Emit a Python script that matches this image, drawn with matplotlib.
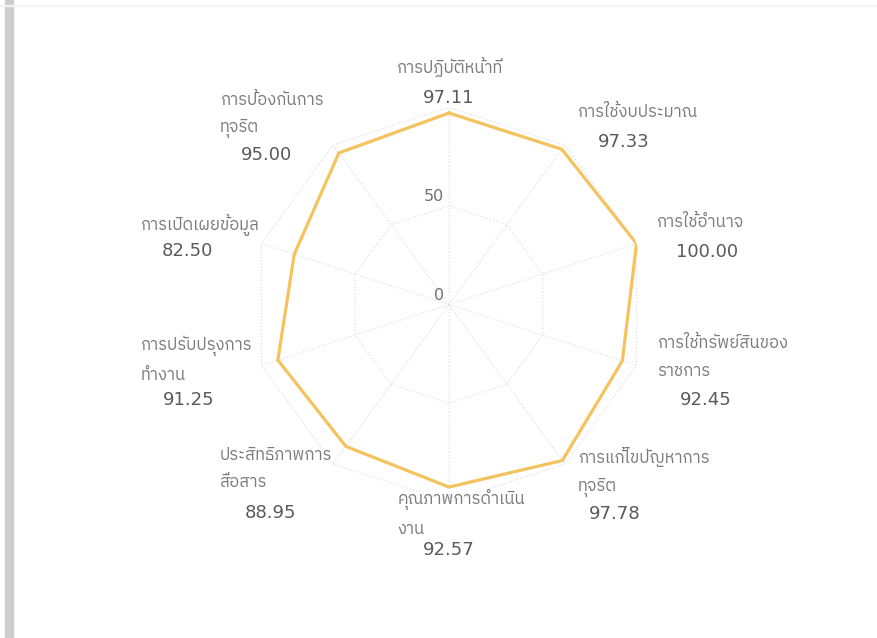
import numpy as np
import matplotlib
matplotlib.use('Agg')
from matplotlib import pyplot as plt
from matplotlib import font_manager
from matplotlib.ft2font import FT2Font
from matplotlib.patches import Rectangle

labels = [
    'การปฏิบัติหน้าที่',
    'การใช้งบประมาณ',
    'การใช้อำนาจ',
    'การใช้ทรัพย์สินของ\nราชการ',
    'การแก้ไขปัญหาการ\nทุจริต',
    'คุณภาพการดำเนิน\nงาน',
    'ประสิทธิภาพการ\nสื่อสาร',
    'การปรับปรุงการ\nทำงาน',
    'การเปิดเผยข้อมูล',
    'การป้องกันการ\nทุจริต',
]
scores = [97.11, 97.33, 100.00, 92.45, 97.78, 92.57, 88.95, 91.25, 82.50, 95.00]
ring_ticks = [0, 50]
r_max = 100

# label placement, pixels from the outer ring point of each spoke
label_off = [(0, 50, 'center'), (12, 41, 'left'), (20, 30, 'left'), (21, 30, 'left'),
             (13, 17, 'left'), (-51, 13, 'left'), (-113, 17, 'left'), (-121, 30, 'left'),
             (-121, 30, 'left'), (-113, 53, 'left')]
value_off = [(0, 9), (59, 3), (71, -8), (69, -35), (50, -50),
             (0, -48), (-63, -49), (-73, -35), (-74, -7), (-67, -10)]


def thai_font():
    fonts = sorted(font_manager.fontManager.ttflist,
                   key=lambda f: 'Thai' not in f.name)
    for f in fonts:
        try:
            if FT2Font(f.fname).get_char_index(ord('ก')):
                return f.name
        except Exception:
            pass
    return 'DejaVu Sans'


thai = thai_font()
plt.rcParams['font.family'] = [thai, 'DejaVu Sans']

fig = plt.figure(figsize=(8.77, 6.38), dpi=100)
fig.patch.set_facecolor('white')
# screenshot edges
fig.patches.append(Rectangle((5 / 877, 0), 8 / 877, 1, transform=fig.transFigure,
                             color='#cdcdcd', zorder=0))
fig.patches.append(Rectangle((0, 1 - 6 / 638), 1, 1 / 638, transform=fig.transFigure,
                             color='#f2f2f2', zorder=0))

ax = fig.add_axes([0.2871, 0.2136, 0.4497, 0.6182], projection='polar')
ax.set_theta_zero_location('N')
ax.set_theta_direction(-1)
ax.set_ylim(0, r_max)
ax.grid(False)
ax.spines['polar'].set_visible(False)
ax.set_xticks([])
ax.set_yticks([])
ax.patch.set_alpha(0)

n = len(labels)
theta = np.linspace(0, 2 * np.pi, n, endpoint=False)
closed = np.append(theta, theta[0])

# polygon grid
for r in [50, r_max]:
    ax.plot(closed, [r] * (n + 1), color='#e0e0e0', lw=0.9, ls=':', zorder=1)
for t in theta:
    ax.plot([t, t], [0, r_max], color='#e0e0e0', lw=0.9, ls=':', zorder=1)

for r in ring_ticks:
    ax.annotate(str(r), xy=(0, r), xytext=(-5, 2), textcoords='offset pixels',
                ha='right', va='bottom', fontsize=11.5, color='#707070',
                family=['DejaVu Sans'])

ax.plot(closed, scores + scores[:1], color='#f5c35e', lw=2.3, zorder=3,
        solid_joinstyle='miter')

for i in range(n):
    dx, dy, ha = label_off[i]
    ax.annotate(labels[i], xy=(theta[i], r_max), xytext=(dx, dy),
                textcoords='offset pixels', ha=ha, va='top', fontsize=12,
                color='#7a7a7a', linespacing=1.85, annotation_clip=False)
    vx, vy = value_off[i]
    ax.annotate('%.2f' % scores[i], xy=(theta[i], r_max), xytext=(vx, vy),
                textcoords='offset pixels', ha='center', va='center',
                fontsize=13, color='#5a5a5a', annotation_clip=False,
                family=['DejaVu Sans'])

plt.savefig('out.png', dpi=100)
